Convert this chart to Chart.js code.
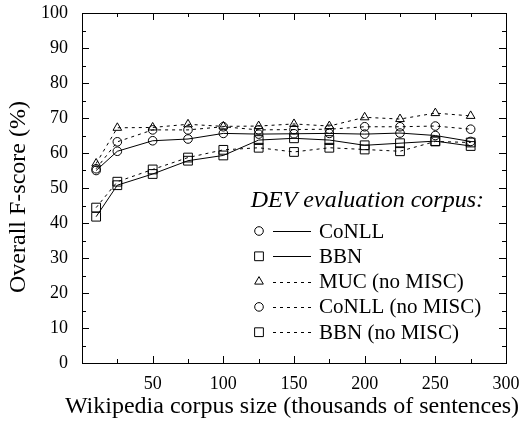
<!DOCTYPE html>
<html>
<head>
<meta charset="utf-8">
<script src="https://cdn.jsdelivr.net/npm/chart.js@4.4.1/dist/chart.umd.min.js"></script>
<style>
  html, body { margin: 0; padding: 0; background: #fff; }
</style>
</head>
<body>
<canvas id="chart" width="524" height="421"></canvas>
<script>
// corpus size in thousands of sentences
const SIZES = [10, 25, 50, 75, 100, 125, 150, 175, 200, 225, 250, 275];

// overall F-score (%) on the DEV corpora
const CONLL = [55.0, 60.5, 63.5, 64.0, 65.6, 65.4, 65.5, 65.6, 65.4, 65.7, 65.0, 63.3];
const BBN = [41.8, 50.8, 54.0, 57.8, 59.3, 63.7, 64.2, 63.7, 62.2, 62.8, 63.4, 62.0];
const MUC_NOMISC = [57.0, 67.2, 67.3, 68.2, 67.6, 67.7, 68.3, 67.7, 70.2, 69.7, 71.4, 70.6];
const CONLL_NOMISC = [55.5, 63.2, 66.6, 66.6, 67.5, 66.6, 66.7, 66.8, 67.5, 67.5, 67.7, 66.8];
const BBN_NOMISC = [44.4, 51.8, 55.3, 58.7, 60.9, 61.5, 60.3, 61.5, 61.0, 60.5, 63.3, 63.0];

const X_TICKS = [50, 100, 150, 200, 250, 300];
const Y_TICKS = [0, 10, 20, 30, 40, 50, 60, 70, 80, 90, 100];

const SERIF = '"Liberation Serif", "Times New Roman", "DejaVu Serif", serif';
const DOTTED = [3, 4];

function points(values) {
  return SIZES.map((x, i) => ({ x, y: values[i] }));
}

function series(label, values, shape, radius, dash) {
  return {
    label,
    data: points(values),
    borderColor: '#000',
    borderWidth: 1,
    borderDash: dash,
    pointStyle: shape,
    pointRadius: radius,
    pointBorderWidth: 1,
    pointBorderColor: '#000',
    pointBackgroundColor: 'rgba(0,0,0,0)',
    fill: false,
    tension: 0,
  };
}

// gnuplot style frame: box, inward ticks on all sides, titles and the inset key
const framePlugin = {
  id: 'frame',
  afterDraw(chart) {
    const { ctx, chartArea: a, scales } = chart;
    const xs = scales.x, ys = scales.y;
    ctx.save();
    ctx.strokeStyle = '#000';
    ctx.lineWidth = 1;
    ctx.setLineDash([]);
    ctx.strokeRect(Math.round(a.left) + 0.5, Math.round(a.top) + 0.5,
      Math.round(a.right - a.left), Math.round(a.bottom - a.top));

    ctx.beginPath();
    for (let v = 0; v <= 100; v += 5) {
      const y = Math.round(ys.getPixelForValue(v)) + 0.5;
      const len = v % 10 === 0 ? 7 : 4;
      ctx.moveTo(a.left, y); ctx.lineTo(a.left + len, y);
      ctx.moveTo(a.right, y); ctx.lineTo(a.right - len, y);
    }
    for (let v = 25; v < 300; v += 25) {
      const x = Math.round(xs.getPixelForValue(v)) + 0.5;
      const len = v % 50 === 0 ? 7 : 4;
      ctx.moveTo(x, a.bottom); ctx.lineTo(x, a.bottom - len);
      ctx.moveTo(x, a.top); ctx.lineTo(x, a.top + len);
    }
    ctx.stroke();

    // axis titles
    ctx.fillStyle = '#000';
    ctx.font = '24px ' + SERIF;
    ctx.textAlign = 'center';
    ctx.textBaseline = 'middle';
    ctx.fillText('Wikipedia corpus size (thousands of sentences)', 292, 407);
    ctx.save();
    ctx.translate(19, 197);
    ctx.rotate(-Math.PI / 2);
    ctx.fillText('Overall F-score (%)', 0, 0);
    ctx.restore();

    // key
    ctx.font = 'italic 24px ' + SERIF;
    ctx.textAlign = 'right';
    ctx.fillText('DEV evaluation corpus:', 484, 201);
    ctx.font = '21px ' + SERIF;
    ctx.textAlign = 'left';
    chart.data.datasets.forEach((ds, i) => {
      const y = 231 + i * 25.3;
      ctx.setLineDash([]);
      ctx.fillStyle = 'rgba(0,0,0,0)';
      Chart.helpers.drawPoint(ctx, {
        pointStyle: ds.pointStyle, radius: ds.pointRadius, borderWidth: 1, rotation: 0,
      }, 259, y);
      ctx.strokeStyle = '#000';
      ctx.setLineDash(ds.borderDash);
      ctx.beginPath();
      ctx.moveTo(273, Math.round(y) + 0.5);
      ctx.lineTo(311, Math.round(y) + 0.5);
      ctx.stroke();
      ctx.setLineDash([]);
      ctx.fillStyle = '#000';
      ctx.fillText(ds.label, 319, y + 1);
    });
    ctx.restore();
  },
};

function noOverflow(scale) {
  scale.paddingTop = 0;
  scale.paddingBottom = 0;
  scale.paddingLeft = 0;
  scale.paddingRight = 0;
}

new Chart(document.getElementById('chart'), {
  type: 'line',
  data: {
    datasets: [
      series('CoNLL', CONLL, 'circle', 4.3, []),
      series('BBN', BBN, 'rect', 6.2, []),
      series('MUC (no MISC)', MUC_NOMISC, 'triangle', 5, DOTTED),
      series('CoNLL (no MISC)', CONLL_NOMISC, 'circle', 4.3, DOTTED),
      series('BBN (no MISC)', BBN_NOMISC, 'rect', 6.2, DOTTED),
    ],
  },
  options: {
    responsive: false,
    animation: false,
    layout: { padding: { top: 13, right: 18, left: 0, bottom: 0 } },
    plugins: { legend: { display: false }, tooltip: { enabled: false } },
    scales: {
      x: {
        type: 'linear',
        min: 0,
        max: 300,
        afterFit(scale) { scale.height = 58; noOverflow(scale); },
        afterBuildTicks(scale) { scale.ticks = X_TICKS.map(value => ({ value })); },
        grid: { display: false, drawTicks: false },
        border: { display: false },
        ticks: { color: '#000', padding: 10, font: { family: SERIF, size: 18 }, maxRotation: 0 },
      },
      y: {
        type: 'linear',
        min: 0,
        max: 100,
        afterFit(scale) { scale.width = 82; noOverflow(scale); },
        afterBuildTicks(scale) { scale.ticks = Y_TICKS.map(value => ({ value })); },
        grid: { display: false, drawTicks: false },
        border: { display: false },
        ticks: { color: '#000', padding: 14, font: { family: SERIF, size: 18 } },
      },
    },
  },
  plugins: [framePlugin],
});
</script>
</body>
</html>
